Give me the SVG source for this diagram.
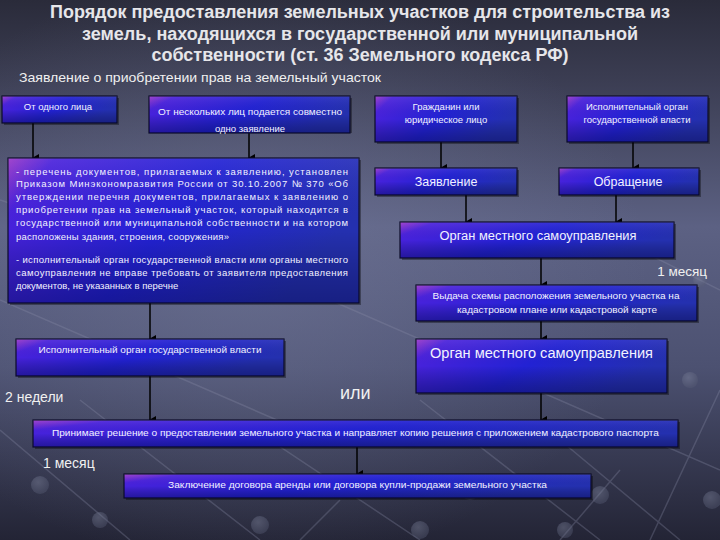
<svg xmlns="http://www.w3.org/2000/svg" width="720" height="540" viewBox="0 0 720 540">
<defs>
<linearGradient id="bg" x1="0" y1="0" x2="0" y2="1">
<stop offset="0" stop-color="#2a2b3a"/>
<stop offset="0.14" stop-color="#3a3c51"/>
<stop offset="0.42" stop-color="#5c6183"/>
<stop offset="0.68" stop-color="#4c5171"/>
<stop offset="1" stop-color="#232435"/>
</linearGradient>
<radialGradient id="glow" cx="0.35" cy="0.5" r="0.55">
<stop offset="0" stop-color="#7a80a2" stop-opacity="0.45"/>
<stop offset="1" stop-color="#7a80a2" stop-opacity="0"/>
</radialGradient>
<linearGradient id="box" x1="0" y1="0" x2="1" y2="0.35">
<stop offset="0" stop-color="#9a36c8"/>
<stop offset="0.12" stop-color="#4a22dc"/>
<stop offset="0.55" stop-color="#2222d4"/>
<stop offset="1" stop-color="#2430b0"/>
</linearGradient>
<linearGradient id="shade" x1="0" y1="0" x2="0" y2="1">
<stop offset="0" stop-color="#ffffff" stop-opacity="0.08"/>
<stop offset="0.5" stop-color="#000000" stop-opacity="0"/>
<stop offset="1" stop-color="#000030" stop-opacity="0.35"/>
</linearGradient>
<radialGradient id="ball" cx="0.4" cy="0.35" r="0.6">
<stop offset="0" stop-color="#8a90a8"/>
<stop offset="1" stop-color="#5a5f78"/>
</radialGradient>
<marker id="arr" markerUnits="userSpaceOnUse" markerWidth="8" markerHeight="7" refX="4" refY="6" orient="auto-start-reverse" viewBox="0 0 8 7">
<path d="M0,0 L8,0 L4,7 Z" fill="#000"/>
</marker>
<style>
.bx{fill:url(#box);stroke:#0c0c2a;stroke-width:1.2}
.sh{fill:url(#shade)}
.ds{fill:#000;opacity:0.35}
.t{font-family:"Liberation Sans",Arial,sans-serif;fill:#f2f2ff;font-size:9.5px}
.c{text-anchor:middle}
.s125{font-size:12.5px}
.s14{font-size:14px}
.w{font-family:"Liberation Sans",Arial,sans-serif;fill:#f0f0f0}
.ttl{font-family:"Liberation Sans",Arial,sans-serif;font-weight:bold;font-size:17.5px;fill:#e6e6ea;text-anchor:middle}
.ln{stroke:#000;stroke-width:1.5;fill:none;marker-end:url(#arr)}
.deco{stroke:#8a90aa;stroke-width:1.5;opacity:0.3;fill:none}
</style>
</defs>
<rect width="720" height="540" fill="url(#bg)"/>
<rect width="720" height="540" fill="url(#glow)"/>
<g id="background-net">
<path class="deco" d="M0,430 L130,540 M80,400 L260,540 M240,420 L420,540 M420,400 L600,540 M560,440 L680,540 M0,300 L300,430 M330,300 L720,470 M600,230 L720,290 M0,200 L120,240 M720,390 L650,540 M560,540 L620,470 M300,540 L340,500"/>
<g fill="url(#ball)" opacity="0.4">
<circle cx="40" cy="485" r="9"/><circle cx="170" cy="487" r="10"/><circle cx="318" cy="488" r="9"/><circle cx="470" cy="490" r="10"/><circle cx="600" cy="495" r="9"/><circle cx="712" cy="500" r="9"/>
<circle cx="100" cy="520" r="8"/><circle cx="260" cy="525" r="9"/><circle cx="420" cy="530" r="9"/><circle cx="565" cy="530" r="8"/>
<circle cx="690" cy="380" r="8"/><circle cx="700" cy="280" r="7"/>
</g>
</g>
<g id="title">
<text class="ttl" x="360" y="18" textLength="620" lengthAdjust="spacingAndGlyphs">Порядок предоставления земельных участков для строительства из</text>
<text class="ttl" x="360" y="40" textLength="556" lengthAdjust="spacingAndGlyphs">земель, находящихся в государственной или муниципальной</text>
<text class="ttl" x="360" y="61" textLength="417" lengthAdjust="spacingAndGlyphs">собственности (ст. 36 Земельного кодекса РФ)</text>
</g>
<text id="subtitle" class="w" x="19" y="82" font-size="13" textLength="362" lengthAdjust="spacingAndGlyphs">Заявление о приобретении прав на земельный участок</text>
<g id="connectors">
<line class="ln" x1="33" y1="123" x2="33" y2="158"/>
<line class="ln" x1="249" y1="133" x2="249" y2="158"/>
<line class="ln" x1="150" y1="303" x2="150" y2="339"/>
<line class="ln" x1="150" y1="376" x2="150" y2="420"/>
<line class="ln" x1="441" y1="142" x2="441" y2="168"/>
<line class="ln" x1="633" y1="142" x2="633" y2="168" stroke-width="2.2"/>
<line class="ln" x1="466" y1="195" x2="466" y2="222"/>
<line class="ln" x1="616" y1="195" x2="616" y2="222"/>
<line class="ln" x1="541" y1="258" x2="541" y2="285"/>
<line class="ln" x1="541" y1="321" x2="541" y2="339"/>
<line class="ln" x1="541" y1="393" x2="541" y2="420"/>
<line class="ln" x1="357" y1="447" x2="357" y2="474"/>
</g>
<g id="n-one">
<rect class="ds" x="4" y="98" width="115" height="27"/>
<rect class="bx" x="2" y="96" width="115" height="27"/>
<rect class="sh" x="2" y="96" width="115" height="27"/>
<text class="t c" x="58" y="110">От одного лица</text>
</g>
<g id="n-several">
<rect class="ds" x="151" y="98" width="201" height="35"/>
<rect class="bx" x="149" y="96" width="201" height="37"/>
<rect class="sh" x="149" y="96" width="201" height="37"/>
<text class="t c" x="250" y="115" textLength="184" lengthAdjust="spacingAndGlyphs">От нескольких лиц подается совместно</text>
<text class="t c" x="250" y="132">одно заявление</text>
</g>
<g id="n-list">
<rect class="ds" x="10" y="160" width="351" height="145"/>
<rect class="bx" x="8" y="158" width="351" height="145"/>
<rect class="sh" x="8" y="158" width="351" height="145"/>
<text class="t" x="16" y="174.5" textLength="332" lengthAdjust="spacing">- перечень документов, прилагаемых к заявлению, установлен</text>
<text class="t" x="16" y="187" textLength="332" lengthAdjust="spacing">Приказом Минэкономразвития России от 30.10.2007 № 370 «Об</text>
<text class="t" x="16" y="200" textLength="332" lengthAdjust="spacing">утверждении перечня документов, прилагаемых к заявлению о</text>
<text class="t" x="16" y="213" textLength="332" lengthAdjust="spacing">приобретении прав на земельный участок, который находится в</text>
<text class="t" x="16" y="226" textLength="332" lengthAdjust="spacing">государственной или муниципальной собственности и на котором</text>
<text class="t" x="16" y="239.5" textLength="213" lengthAdjust="spacing">расположены здания, строения, сооружения»</text>
<text class="t" x="16" y="262.5" textLength="332" lengthAdjust="spacing">- исполнительный орган государственной власти или органы местного</text>
<text class="t" x="16" y="275.5" textLength="332" lengthAdjust="spacing">самоуправления не вправе требовать от заявителя предоставления</text>
<text class="t" x="16" y="289">документов, не указанных в перечне</text>
</g>
<g id="n-exec-left">
<rect class="ds" x="18" y="341" width="268" height="37"/>
<rect class="bx" x="16" y="339" width="268" height="37"/>
<rect class="sh" x="16" y="339" width="268" height="37"/>
<text class="t c" x="150" y="353" textLength="223" lengthAdjust="spacingAndGlyphs">Исполнительный орган государственной власти</text>
</g>
<g id="n-citizen">
<rect class="ds" x="377" y="98" width="142" height="46"/>
<rect class="bx" x="375" y="96" width="142" height="46"/>
<rect class="sh" x="375" y="96" width="142" height="46"/>
<text class="t c" x="446" y="110">Гражданин или</text>
<text class="t c" x="446" y="123">юридическое лицо</text>
</g>
<g id="n-exec-right">
<rect class="ds" x="569" y="98" width="141" height="46"/>
<rect class="bx" x="567" y="96" width="141" height="46"/>
<rect class="sh" x="567" y="96" width="141" height="46"/>
<text class="t c" x="637" y="110">Исполнительный орган</text>
<text class="t c" x="637" y="123">государственной власти</text>
</g>
<g id="n-application">
<rect class="ds" x="377" y="170" width="142" height="27"/>
<rect class="bx" x="375" y="168" width="142" height="27"/>
<rect class="sh" x="375" y="168" width="142" height="27"/>
<text class="t c s125" x="446" y="186">Заявление</text>
</g>
<g id="n-appeal">
<rect class="ds" x="561" y="170" width="140" height="27"/>
<rect class="bx" x="559" y="168" width="140" height="27"/>
<rect class="sh" x="559" y="168" width="140" height="27"/>
<text class="t c s125" x="628" y="186">Обращение</text>
</g>
<g id="n-local-top">
<rect class="ds" x="402" y="224" width="274" height="36"/>
<rect class="bx" x="400" y="222" width="274" height="36"/>
<rect class="sh" x="400" y="222" width="274" height="36"/>
<text class="t c s125" x="538" y="239.5" textLength="197" lengthAdjust="spacingAndGlyphs">Орган местного самоуправления</text>
</g>
<text id="month-right" class="w" x="707" y="275.5" font-size="13.5" text-anchor="end">1 месяц</text>
<g id="n-scheme">
<rect class="ds" x="418" y="287" width="281" height="36"/>
<rect class="bx" x="416" y="285" width="281" height="36"/>
<rect class="sh" x="416" y="285" width="281" height="36"/>
<text class="t c" x="556" y="299" textLength="247" lengthAdjust="spacingAndGlyphs">Выдача схемы расположения земельного участка на</text>
<text class="t c" x="557" y="312.5" textLength="200" lengthAdjust="spacingAndGlyphs">кадастровом плане или кадастровой карте</text>
</g>
<g id="n-local-bottom">
<rect class="ds" x="418" y="341" width="251" height="54"/>
<rect class="bx" x="416" y="339" width="251" height="54"/>
<rect class="sh" x="416" y="339" width="251" height="54"/>
<text class="t c s14" x="541.5" y="358" textLength="223" lengthAdjust="spacingAndGlyphs">Орган местного самоуправления</text>
</g>
<text id="two-weeks" class="w" x="5" y="402" font-size="14">2 недели</text>
<text id="or" class="w" x="340" y="399" font-size="18">или</text>
<g id="n-decision">
<rect class="ds" x="35" y="422" width="645" height="27"/>
<rect class="bx" x="33" y="420" width="645" height="27"/>
<rect class="sh" x="33" y="420" width="645" height="27"/>
<text class="t c" x="355.5" y="435.5" textLength="607" lengthAdjust="spacingAndGlyphs">Принимает решение о предоставлении земельного участка и направляет копию решения с приложением кадастрового паспорта</text>
</g>
<text id="month-left" class="w" x="43" y="468" font-size="14">1 месяц</text>
<g id="n-contract">
<rect class="ds" x="126" y="476" width="467" height="24"/>
<rect class="bx" x="124" y="474" width="467" height="24"/>
<rect class="sh" x="124" y="474" width="467" height="24"/>
<text class="t c" x="357.5" y="488" textLength="379" lengthAdjust="spacingAndGlyphs">Заключение договора аренды или договора купли-продажи земельного участка</text>
</g>
</svg>
